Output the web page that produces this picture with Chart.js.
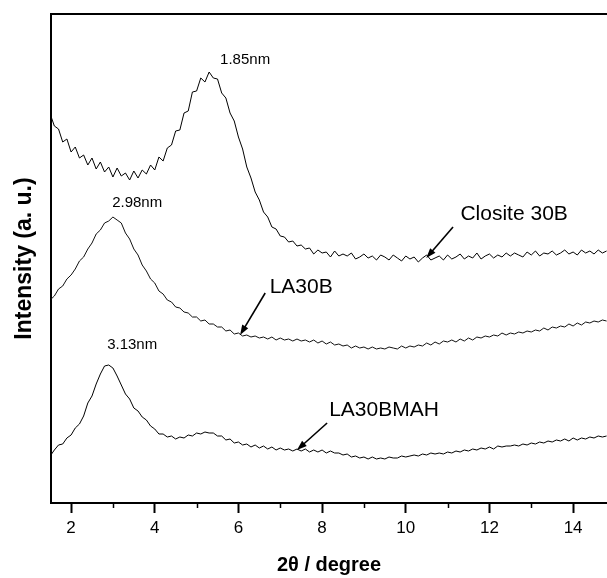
<!DOCTYPE html>
<html>
<head>
<meta charset="utf-8">
<script src="https://cdn.jsdelivr.net/npm/chart.js@4.4.1/dist/chart.umd.min.js"></script>
<style>
  html, body { margin: 0; padding: 0; background: #ffffff; }
  #wrap { width: 607px; height: 578px; }
</style>
</head>
<body>
<div id="wrap"><canvas id="xrd" width="607" height="578"></canvas></div>
<script>
// ---- data (2θ in degrees, intensity in arbitrary units) ----
const twoTheta = [
  1.5,1.6,1.7,1.8,1.9,2.0,2.1,2.2,2.3,2.4,
  2.5,2.6,2.7,2.8,2.9,3.0,3.1,3.2,3.3,3.4,
  3.5,3.6,3.7,3.8,3.9,4.0,4.1,4.2,4.3,4.4,
  4.5,4.6,4.7,4.8,4.9,5.0,5.1,5.2,5.3,5.4,
  5.5,5.6,5.7,5.8,5.9,6.0,6.1,6.2,6.3,6.4,
  6.5,6.6,6.7,6.8,6.9,7.0,7.1,7.2,7.3,7.4,
  7.5,7.6,7.7,7.8,7.9,8.0,8.1,8.2,8.3,8.4,
  8.5,8.6,8.7,8.8,8.9,9.0,9.1,9.2,9.3,9.4,
  9.5,9.6,9.7,9.8,9.9,10.0,10.1,10.2,10.3,10.4,
  10.5,10.6,10.7,10.8,10.9,11.0,11.1,11.2,11.3,11.4,
  11.5,11.6,11.7,11.8,11.9,12.0,12.1,12.2,12.3,12.4,
  12.5,12.6,12.7,12.8,12.9,13.0,13.1,13.2,13.3,13.4,
  13.5,13.6,13.7,13.8,13.9,14.0,14.1,14.2,14.3,14.4,
  14.5,14.6,14.7,14.8
];

const closite30B = [
  389,377,374,361,364,351,356,345,348,338,
  345,334,341,331,336,326,335,327,330,323,
  332,325,333,329,338,333,346,342,355,358,
  372,373,390,392,411,412,425,421,431,425,
  424,410,405,390,382,366,354,336,325,311,
  303,291,286,276,274,267,266,261,262,257,
  258,254,255,249,253,250,251,246,252,247,
  249,247,250,244,246,249,245,247,243,248,
  246,243,248,245,242,247,244,246,241,245,
  248,243,245,247,243,248,244,246,249,244,
  247,245,250,244,247,249,245,248,246,250,
  247,250,248,246,251,248,252,247,250,249,
  252,248,250,253,249,251,248,253,250,252,
  249,253,250,252
];

const la30B = [
  203,207,214,217,224,228,234,242,246,254,
  260,269,273,280,282,286,283,280,270,264,
  254,248,238,232,224,220,212,209,203,201,
  196,195,191,190,186,186,182,183,179,179,
  176,176,172,173,169,170,167,168,166,167,
  165,166,164,166,163,165,163,164,162,164,
  162,163,161,163,160,162,159,161,158,159,
  157,158,155,157,155,156,154,156,154,155,
  154,156,155,154,157,155,157,156,158,157,
  160,158,161,159,162,161,163,161,164,162,
  165,163,166,165,167,166,168,167,170,168,
  170,169,171,170,172,171,173,172,175,173,
  176,175,177,176,179,177,180,178,181,180,
  182,181,183,182
];

const la30BMAH = [
  47,53,58,59,65,68,75,79,87,100,
  107,119,129,137,138,135,127,118,109,104,
  95,92,86,83,77,74,69,69,66,67,
  64,66,65,68,67,70,69,71,70,70,
  67,67,63,64,60,61,58,59,56,58,
  55,57,54,56,53,55,53,54,52,54,
  52,54,51,53,51,53,50,52,50,50,
  48,49,46,47,45,46,44,46,44,45,
  44,46,45,45,47,46,47,48,47,49,
  48,50,49,50,49,51,50,52,51,53,
  52,54,53,55,54,56,54,57,56,57,
  57,58,57,59,58,60,59,61,60,62,
  61,63,62,64,62,65,63,65,64,66,
  65,67,66,67
];

const majorTicks = [2, 4, 6, 8, 10, 12, 14];
const minorTicks = [3, 5, 7, 9, 11, 13];

const peakTexts = ['1.85nm', '2.98nm', '3.13nm'];
const seriesNames = ['Closite 30B', 'LA30B', 'LA30BMAH'];

// ---- annotation layout (in data coordinates) ----
const FONT = "'Liberation Sans', Arial, Helvetica, sans-serif";
const noteConfig = {
  minorTickLength: 5,
  peakLabels: [
    { text: peakTexts[0], x: 6.16, y: 443 },
    { text: peakTexts[1], x: 3.58, y: 300 },
    { text: peakTexts[2], x: 3.46, y: 158 }
  ],
  nameLabels: [
    { text: seriesNames[0], x: 12.59, y: 289 },
    { text: seriesNames[1], x: 7.50, y: 216 },
    { text: seriesNames[2], x: 9.48, y: 93 }
  ],
  arrows: [
    { from: [11.13, 276], to: [10.49, 245] },
    { from: [6.64, 210], to: [6.04, 168] },
    { from: [8.12, 80], to: [7.40, 53] }
  ]
};

const notesPlugin = {
  id: 'xrdNotes',
  afterDraw(chart) {
    const { ctx, chartArea } = chart;
    const xs = chart.scales.x, ys = chart.scales.y;
    ctx.save();
    // minor ticks
    ctx.strokeStyle = '#000';
    ctx.lineWidth = 1.5;
    minorTicks.forEach(v => {
      const px = Math.round(xs.getPixelForValue(v)) + 0.5;
      ctx.beginPath();
      ctx.moveTo(px, chartArea.bottom);
      ctx.lineTo(px, chartArea.bottom + noteConfig.minorTickLength);
      ctx.stroke();
    });
    // labels
    ctx.fillStyle = '#000';
    ctx.textAlign = 'center';
    ctx.textBaseline = 'middle';
    ctx.font = '15px ' + FONT;
    noteConfig.peakLabels.forEach(l => {
      ctx.fillText(l.text, xs.getPixelForValue(l.x), ys.getPixelForValue(l.y));
    });
    ctx.font = '21px ' + FONT;
    noteConfig.nameLabels.forEach(l => {
      ctx.fillText(l.text, xs.getPixelForValue(l.x), ys.getPixelForValue(l.y));
    });
    // arrows
    noteConfig.arrows.forEach(a => {
      const x1 = xs.getPixelForValue(a.from[0]), y1 = ys.getPixelForValue(a.from[1]);
      const x2 = xs.getPixelForValue(a.to[0]), y2 = ys.getPixelForValue(a.to[1]);
      const ang = Math.atan2(y2 - y1, x2 - x1);
      const headLen = 10, headW = 3.5;
      ctx.strokeStyle = '#000';
      ctx.lineWidth = 1.6;
      ctx.beginPath();
      ctx.moveTo(x1, y1);
      ctx.lineTo(x2 - Math.cos(ang) * headLen * 0.6, y2 - Math.sin(ang) * headLen * 0.6);
      ctx.stroke();
      ctx.beginPath();
      ctx.moveTo(x2, y2);
      ctx.lineTo(x2 - Math.cos(ang) * headLen - Math.sin(ang) * headW, y2 - Math.sin(ang) * headLen + Math.cos(ang) * headW);
      ctx.lineTo(x2 - Math.cos(ang) * headLen + Math.sin(ang) * headW, y2 - Math.sin(ang) * headLen - Math.cos(ang) * headW);
      ctx.closePath();
      ctx.fill();
    });
    ctx.restore();
  }
};

const toPoints = vals => twoTheta.map((t, i) => ({ x: t, y: vals[i] }));
const lineStyle = { borderWidth: 1, pointRadius: 0, tension: 0, fill: false };

new Chart(document.getElementById('xrd').getContext('2d'), {
  type: 'line',
  data: {
    datasets: [
      Object.assign({ label: seriesNames[0], data: toPoints(closite30B), borderColor: '#000' }, lineStyle),
      Object.assign({ label: seriesNames[1], data: toPoints(la30B), borderColor: '#111' }, lineStyle),
      Object.assign({ label: seriesNames[2], data: toPoints(la30BMAH), borderColor: '#000' }, lineStyle)
    ]
  },
  options: {
    responsive: false,
    animation: false,
    devicePixelRatio: 1,
    layout: { padding: { top: 14, left: 0, right: 0, bottom: 0 } },
    plugins: { legend: { display: false }, tooltip: { enabled: false } },
    scales: {
      x: {
        type: 'linear',
        position: 'bottom',
        min: 1.52,
        max: 14.81,
        afterBuildTicks: s => { s.ticks = majorTicks.map(v => ({ value: v })); },
        afterFit: s => { s.height = 75; },
        ticks: { color: '#000', font: { family: FONT, size: 17 }, padding: 5, maxRotation: 0 },
        grid: { drawOnChartArea: false, drawTicks: true, tickLength: 10, tickWidth: 2, tickColor: '#000' },
        border: { display: true, color: '#000', width: 2 },
        title: {
          display: true, text: '2θ / degree', color: '#000',
          font: { family: FONT, size: 20, weight: 'bold' },
          padding: { top: 0, bottom: 1 }
        }
      },
      xTop: {
        type: 'linear',
        position: 'top',
        min: 1.52,
        max: 14.81,
        afterFit: s => { s.height = 0; },
        ticks: { display: false },
        grid: { drawOnChartArea: false, drawTicks: false },
        border: { display: true, color: '#000', width: 2 }
      },
      y: {
        min: 0,
        max: 489,
        afterFit: s => { s.width = 51; },
        ticks: { display: false },
        grid: { display: false, drawTicks: false },
        border: { display: true, color: '#000', width: 2 },
        title: {
          display: true, text: 'Intensity (a. u.)', color: '#000',
          font: { family: FONT, size: 23, weight: 'bold' },
          padding: { top: 11, bottom: 0 }
        }
      }
    }
  },
  plugins: [notesPlugin]
});
</script>
</body>
</html>
